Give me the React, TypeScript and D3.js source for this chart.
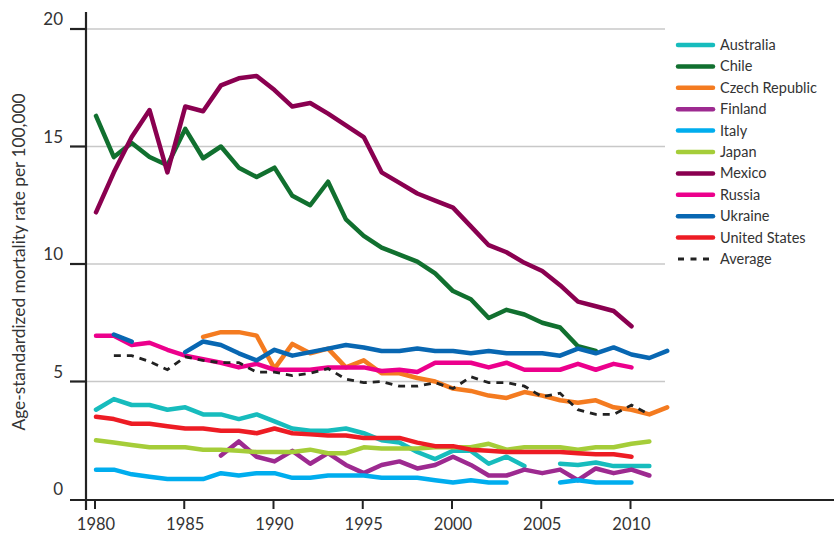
import React from "react";
import * as d3 from "d3";

const yTicks = [0, 5, 10, 15, 20];
const xTicks = [1980, 1985, 1990, 1995, 2000, 2005, 2010];

type Pt = [number, number | null];
const series = (start: number, vals: (number | null)[]): Pt[] => vals.map((v, i) => [start + i, v]);

const australia = series(1980, [3.8, 4.25, 4.0, 4.0, 3.8, 3.9, 3.6, 3.6, 3.4, 3.6, 3.3, 3.0, 2.9, 2.9, 3.0, 2.8, 2.5, 2.4, 2.0, 1.7, 2.05, 2.05, 1.5, 1.8, 1.4, null, 1.5, 1.45, 1.55, 1.4, 1.4, 1.4]);
const chile = series(1980, [16.3, 14.55, 15.15, 14.55, 14.2, 15.75, 14.5, 15.0, 14.1, 13.7, 14.1, 12.9, 12.5, 13.5, 11.9, 11.2, 10.7, 10.4, 10.1, 9.6, 8.85, 8.5, 7.7, 8.05, 7.85, 7.5, 7.3, 6.5, 6.3]);
const czech = series(1986, [6.9, 7.1, 7.1, 6.95, 5.55, 6.6, 6.2, 6.4, 5.6, 5.9, 5.35, 5.35, 5.15, 5.0, 4.7, 4.6, 4.4, 4.3, 4.55, 4.4, 4.2, 4.1, 4.2, 3.9, 3.8, 3.6, 3.9]);
const finland = series(1987, [1.85, 2.45, 1.8, 1.6, 2.05, 1.5, 1.95, 1.45, 1.1, 1.45, 1.6, 1.3, 1.45, 1.8, 1.45, 1.0, 1.0, 1.25, 1.1, 1.25, 0.8, 1.3, 1.1, 1.25, 1.0]);
const italy = series(1980, [1.25, 1.25, 1.05, 0.95, 0.85, 0.85, 0.85, 1.1, 1.0, 1.1, 1.1, 0.9, 0.9, 1.0, 1.0, 1.0, 0.9, 0.9, 0.9, 0.8, 0.7, 0.8, 0.7, 0.7, null, null, 0.7, 0.8, 0.7, 0.7, 0.7]);
const japan = series(1980, [2.5, 2.4, 2.3, 2.2, 2.2, 2.2, 2.1, 2.1, 2.05, 2.0, 2.0, 2.0, 2.1, 1.95, 1.95, 2.2, 2.15, 2.15, 2.15, 2.2, 2.2, 2.2, 2.35, 2.1, 2.2, 2.2, 2.2, 2.1, 2.2, 2.2, 2.35, 2.45]);
const mexico = series(1980, [12.2, 13.9, 15.4, 16.55, 13.9, 16.7, 16.5, 17.6, 17.9, 18.0, 17.4, 16.7, 16.85, 16.4, 15.9, 15.4, 13.9, 13.45, 13.0, 12.7, 12.4, 11.6, 10.8, 10.5, 10.05, 9.7, 9.1, 8.4, 8.2, 8.0, 7.35]);
const russia = series(1980, [6.95, 6.95, 6.55, 6.65, 6.35, 6.1, 5.95, 5.8, 5.6, 5.75, 5.5, 5.5, 5.5, 5.6, 5.6, 5.6, 5.45, 5.5, 5.4, 5.8, 5.8, 5.8, 5.6, 5.8, 5.5, 5.5, 5.5, 5.75, 5.5, 5.75, 5.6]);
const ukraine = series(1981, [7.0, 6.7, null, null, 6.25, 6.7, 6.55, 6.2, 5.9, 6.35, 6.1, 6.25, 6.4, 6.55, 6.45, 6.3, 6.3, 6.4, 6.3, 6.3, 6.2, 6.3, 6.2, 6.2, 6.2, 6.1, 6.4, 6.2, 6.45, 6.15, 6.0, 6.3]);
const unitedStates = series(1980, [3.5, 3.4, 3.2, 3.2, 3.1, 3.0, 3.0, 2.9, 2.9, 2.8, 3.0, 2.8, 2.75, 2.7, 2.7, 2.6, 2.6, 2.6, 2.4, 2.25, 2.25, 2.1, 2.05, 2.0, 2.0, 2.0, 2.0, 1.95, 1.9, 1.9, 1.8]);
const average = series(1981, [6.1, 6.1, 5.85, 5.5, 6.05, 5.9, 5.8, 5.8, 5.4, 5.4, 5.25, 5.35, 5.55, 5.1, 4.95, 5.0, 4.8, 4.8, 4.95, 4.7, 5.2, 4.95, 4.95, 4.8, 4.35, 4.5, 3.8, 3.6, 3.6, 4.0, 3.6]);

const countries = [
  { name: "Australia", color: "#17bcbd", data: australia },
  { name: "Chile", color: "#11702f", data: chile },
  { name: "Czech Republic", color: "#f47b20", data: czech },
  { name: "Finland", color: "#9d2a90", data: finland },
  { name: "Italy", color: "#00adee", data: italy },
  { name: "Japan", color: "#a5cd39", data: japan },
  { name: "Mexico", color: "#8a0050", data: mexico },
  { name: "Russia", color: "#ec008c", data: russia },
  { name: "Ukraine", color: "#0867b2", data: ukraine },
  { name: "United States", color: "#ed1c24", data: unitedStates },
];

export default function App() {
  const W = 834, H = 533;
  const x = d3.scaleLinear().domain([1980, 2010]).range([96, 631.5]);
  const y = d3.scaleLinear().domain([0, 20]).range([499, 29]);
  const line = d3.line<Pt>()
    .defined((d) => d[1] !== null)
    .x((d) => x(d[0]))
    .y((d) => y(d[1] as number));
  const font = "Lato, 'Open Sans', sans-serif";
  return (
    <svg width={W} height={H} style={{ position: "absolute", left: 0, top: 0, background: "#fff" }} fontFamily={font}>
      {yTicks.filter((t) => t > 0).map((t) => (
        <line key={t} x1={86} x2={665} y1={y(t)} y2={y(t)} stroke="#c8c8c8" strokeWidth={1.5} />
      ))}
      {countries.map((c) => (
        <path key={c.name} d={line(c.data) || ""} fill="none" stroke={c.color} strokeWidth={4.5} strokeLinejoin="round" strokeLinecap="round" />
      ))}
      <path d={line(average) || ""} fill="none" stroke="#222" strokeWidth={2.8} strokeDasharray="7 6" />
      <line x1={86} x2={86} y1={12} y2={510} stroke="#222" strokeWidth={2.2} />
      <line x1={70} x2={834} y1={y(0) + 1} y2={y(0) + 1} stroke="#222" strokeWidth={2.2} />
      {yTicks.map((t) => (
        <g key={t}>
          {t > 0 && <line x1={70} x2={86} y1={y(t)} y2={y(t)} stroke="#222" strokeWidth={2.2} />}
          <text x={63} y={y(t) - 4} textAnchor="end" fontSize={17} fill="#333">{t}</text>
        </g>
      ))}
      {xTicks.map((t) => (
        <g key={t}>
          <line x1={x(t) - 1} x2={x(t) - 1} y1={y(0)} y2={y(0) + 10} stroke="#222" strokeWidth={2} />
          <text x={x(t)} y={530} textAnchor="middle" fontSize={16.5} fill="#333">{t}</text>
        </g>
      ))}
      <text transform={`translate(25,262) rotate(-90)`} textAnchor="middle" fontSize={17.3} fill="#333">
        Age-standardized mortality rate per 100,000
      </text>
      {countries.map((c, i) => (
        <g key={c.name} transform={`translate(0,${45 + i * 21.4})`}>
          <line x1={678} x2={713} y1={0} y2={0} stroke={c.color} strokeWidth={4.5} strokeLinecap="round" />
          <text x={720} y={5} fontSize={14.5} fill="#333">{c.name}</text>
        </g>
      ))}
      <g transform={`translate(0,${45 + 10 * 21.4})`}>
        <line x1={678} x2={713} y1={0} y2={0} stroke="#222" strokeWidth={2.8} strokeDasharray="6 6.5" />
        <text x={720} y={5} fontSize={14.5} fill="#333">Average</text>
      </g>
    </svg>
  );
}
